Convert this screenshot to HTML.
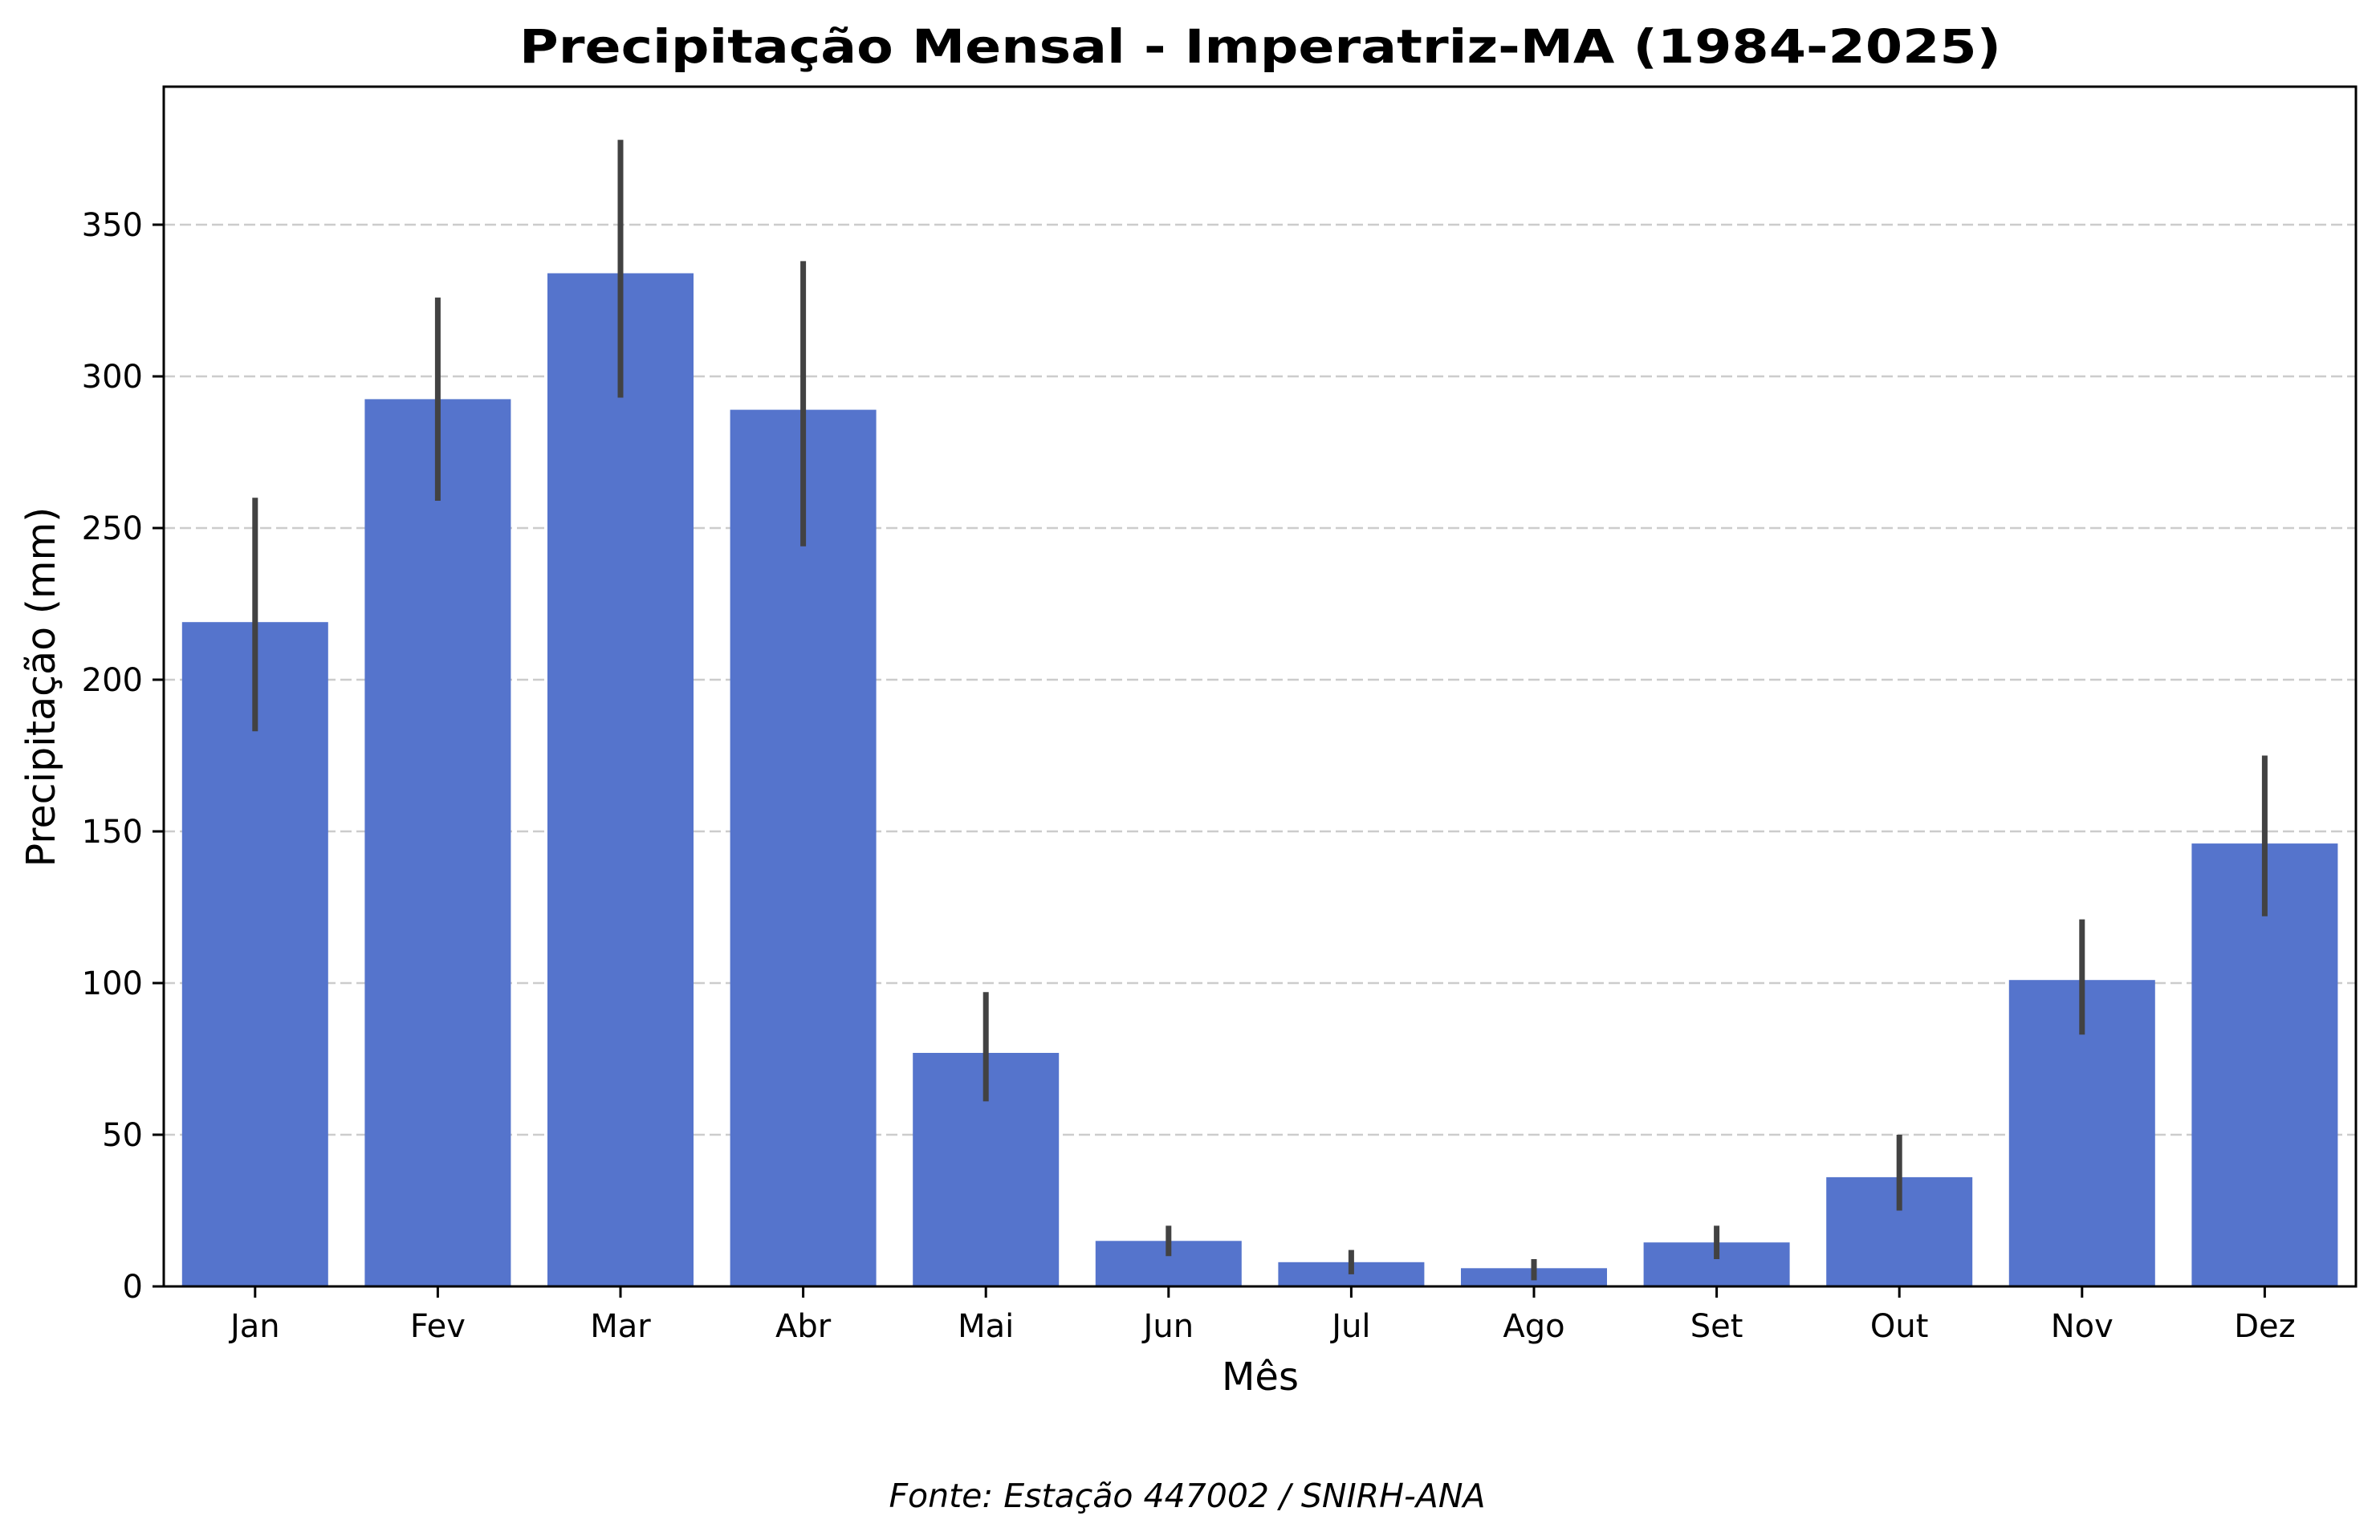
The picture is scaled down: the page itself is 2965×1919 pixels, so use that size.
<!DOCTYPE html>
<html><head><meta charset="utf-8"><style>body{margin:0;background:#fff}svg{display:block}</style></head>
<body>
<svg width="2965" height="1919" xmlns="http://www.w3.org/2000/svg" font-family="DejaVu Sans, Liberation Sans, sans-serif">
<rect width="2965" height="1919" fill="#fff"/>
<g stroke="#cccccc" stroke-width="2.5" stroke-dasharray="14,6">
<line x1="204" x2="2935" y1="1414" y2="1414"/>
<line x1="204" x2="2935" y1="1225" y2="1225"/>
<line x1="204" x2="2935" y1="1036" y2="1036"/>
<line x1="204" x2="2935" y1="847" y2="847"/>
<line x1="204" x2="2935" y1="658" y2="658"/>
<line x1="204" x2="2935" y1="469" y2="469"/>
<line x1="204" x2="2935" y1="280" y2="280"/>
</g>
<g fill="#5574cc">
<rect x="226.8" width="182" y="775.2" height="827.8"/>
<rect x="454.4" width="182" y="497.4" height="1105.6"/>
<rect x="682" width="182" y="340.5" height="1262.5"/>
<rect x="909.6" width="182" y="510.6" height="1092.4"/>
<rect x="1137.2" width="182" y="1312" height="291"/>
<rect x="1364.8" width="182" y="1546.3" height="56.7"/>
<rect x="1592.4" width="182" y="1572.8" height="30.2"/>
<rect x="1820" width="182" y="1580.3" height="22.7"/>
<rect x="2047.6" width="182" y="1548.2" height="54.8"/>
<rect x="2275.2" width="182" y="1466.9" height="136.1"/>
<rect x="2502.8" width="182" y="1221.2" height="381.8"/>
<rect x="2730.4" width="182" y="1051.1" height="551.9"/>
</g>
<g stroke="#424242" stroke-width="7">
<line x1="317.8" x2="317.8" y1="620.2" y2="911.3"/>
<line x1="545.4" x2="545.4" y1="370.7" y2="624"/>
<line x1="773" x2="773" y1="174.2" y2="495.5"/>
<line x1="1000.6" x2="1000.6" y1="325.4" y2="680.8"/>
<line x1="1228.2" x2="1228.2" y1="1236.3" y2="1372.4"/>
<line x1="1455.8" x2="1455.8" y1="1527.4" y2="1565.2"/>
<line x1="1683.4" x2="1683.4" y1="1557.6" y2="1587.9"/>
<line x1="1911" x2="1911" y1="1569" y2="1595.4"/>
<line x1="2138.6" x2="2138.6" y1="1527.4" y2="1569"/>
<line x1="2366.2" x2="2366.2" y1="1414" y2="1508.5"/>
<line x1="2593.8" x2="2593.8" y1="1145.6" y2="1289.3"/>
<line x1="2821.4" x2="2821.4" y1="941.5" y2="1141.8"/>
</g>
<rect x="204" y="108" width="2731" height="1495" fill="none" stroke="#000" stroke-width="3"/>
<g stroke="#000" stroke-width="3">
<line x1="190" x2="204" y1="1603" y2="1603"/><line x1="190" x2="204" y1="1414" y2="1414"/>
<line x1="190" x2="204" y1="1225" y2="1225"/><line x1="190" x2="204" y1="1036" y2="1036"/>
<line x1="190" x2="204" y1="847" y2="847"/><line x1="190" x2="204" y1="658" y2="658"/>
<line x1="190" x2="204" y1="469" y2="469"/><line x1="190" x2="204" y1="280" y2="280"/>
<line x1="317.8" x2="317.8" y1="1603" y2="1617"/><line x1="545.4" x2="545.4" y1="1603" y2="1617"/>
<line x1="773" x2="773" y1="1603" y2="1617"/><line x1="1000.6" x2="1000.6" y1="1603" y2="1617"/>
<line x1="1228.2" x2="1228.2" y1="1603" y2="1617"/><line x1="1455.8" x2="1455.8" y1="1603" y2="1617"/>
<line x1="1683.4" x2="1683.4" y1="1603" y2="1617"/><line x1="1911" x2="1911" y1="1603" y2="1617"/>
<line x1="2138.6" x2="2138.6" y1="1603" y2="1617"/><line x1="2366.2" x2="2366.2" y1="1603" y2="1617"/>
<line x1="2593.8" x2="2593.8" y1="1603" y2="1617"/><line x1="2821.4" x2="2821.4" y1="1603" y2="1617"/>
</g>
<g font-size="40" text-anchor="end" fill="#000">
<text x="178" y="1617">0</text><text x="178" y="1428">50</text><text x="178" y="1239">100</text>
<text x="178" y="1050">150</text><text x="178" y="861">200</text><text x="178" y="672">250</text>
<text x="178" y="483">300</text><text x="178" y="294">350</text>
</g>
<g font-size="40" text-anchor="middle" fill="#000">
<text x="317.8" y="1666">Jan</text><text x="545.4" y="1666">Fev</text><text x="773" y="1666">Mar</text>
<text x="1000.6" y="1666">Abr</text><text x="1228.2" y="1666">Mai</text><text x="1455.8" y="1666">Jun</text>
<text x="1683.4" y="1666">Jul</text><text x="1911" y="1666">Ago</text><text x="2138.6" y="1666">Set</text>
<text x="2366.2" y="1666">Out</text><text x="2593.8" y="1666">Nov</text><text x="2821.4" y="1666">Dez</text>
</g>
<text x="1570" y="1732" font-size="48" text-anchor="middle">Mês</text>
<text transform="translate(68,856) rotate(-90)" font-size="49" text-anchor="middle">Precipitação (mm)</text>
<text x="1570" y="78" font-size="58" font-weight="bold" text-anchor="middle" textLength="1846" lengthAdjust="spacingAndGlyphs">Precipitação Mensal - Imperatriz-MA (1984-2025)</text>
<text x="1479" y="1878" font-size="41" font-style="italic" text-anchor="middle">Fonte: Estação 447002 / SNIRH-ANA</text>
</svg>
</body></html>
